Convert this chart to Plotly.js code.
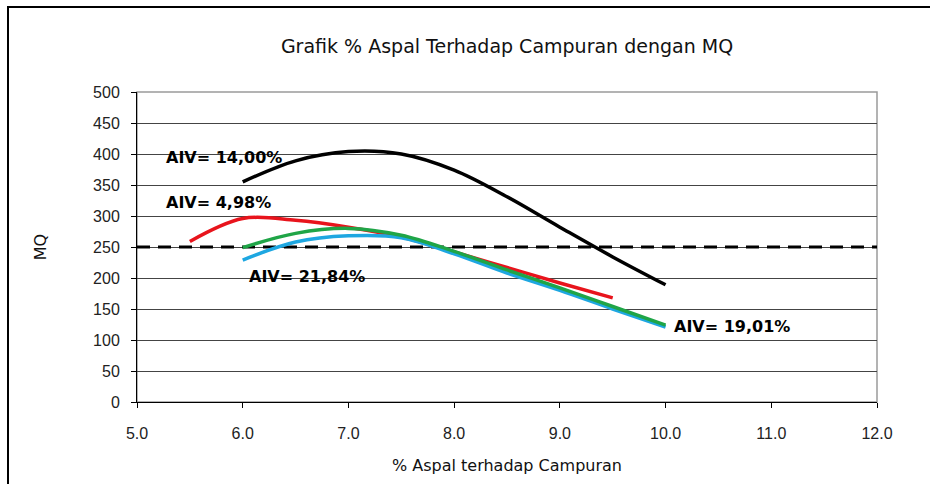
<!DOCTYPE html>
<html>
<head>
<meta charset="utf-8">
<script src="https://cdn.plot.ly/plotly-3.0.1.min.js"></script>
<style>
  html, body { margin: 0; padding: 0; background: #fff; }
  #wrap { position: relative; width: 930px; height: 484px; }
  #chart { position: absolute; left: 0; top: 0; width: 930px; height: 484px; }
  #frame { position: absolute; left: 7px; top: 6px; width: 923px; height: 478px;
           border-top: 2px solid #000; border-left: 2px solid #000; pointer-events: none; }
</style>
</head>
<body>
<div id="wrap">
  <div id="chart"></div>
  <div id="frame"></div>
</div>
<script>
// ---- data ----
const xBlack = [6.0, 6.5, 7.0, 7.5, 8.0, 8.5, 9.0, 9.5, 10.0];
const yBlack = [355, 389, 404, 400, 374, 331, 282, 234, 189];

const xRed = [5.5, 6.0, 6.5, 7.0, 7.5, 8.0, 8.5, 9.0, 9.5];
const yRed = [259, 296, 293, 282, 266, 242, 217, 192, 168];

const xGreen = [6.0, 6.5, 7.0, 7.5, 8.0, 8.5, 9.0, 9.5, 10.0];
const yGreen = [249, 272, 280, 269, 243, 213, 184, 154, 124];

const xCyan = [6.0, 6.5, 7.0, 7.5, 8.0, 8.5, 9.0, 9.5, 10.0];
const yCyan = [229, 258, 268, 265, 239, 208, 180, 150, 121];

const xLimit = [5.0, 12.0];
const yLimit = [250, 250];

const labelText = ["AIV= 14,00%", "AIV= 4,98%", "AIV= 21,84%", "AIV= 19,01%"];
const labelX = [5.26, 5.26, 6.04, 10.06];
const labelY = [395, 321, 203, 122];

const xTicks = [5, 6, 7, 8, 9, 10, 11, 12];
const xTickText = ["5.0", "6.0", "7.0", "8.0", "9.0", "10.0", "11.0", "12.0"];
const yTicks = [0, 50, 100, 150, 200, 250, 300, 350, 400, 450, 500];

const titleText = "Grafik % Aspal Terhadap Campuran dengan MQ";
const xTitle = "% Aspal terhadap Campuran";
const yTitle = "MQ";

// ---- chart ----
const lw = 3.5;
const traces = [
  { x: xLimit, y: yLimit, mode: 'lines', line: { color: '#000', width: 3, dash: '13px,8px' }, hoverinfo: 'skip' },
  { x: xBlack, y: yBlack, mode: 'lines', line: { color: '#000000', width: lw, shape: 'spline', smoothing: 1 } },
  { x: xRed, y: yRed, mode: 'lines', line: { color: '#e8141c', width: lw, shape: 'spline', smoothing: 1 } },
  { x: xCyan, y: yCyan, mode: 'lines', line: { color: '#1ea7e1', width: lw, shape: 'spline', smoothing: 1 } },
  { x: xGreen, y: yGreen, mode: 'lines', line: { color: '#1fa547', width: lw, shape: 'spline', smoothing: 1 } }
];

const annFont = { family: 'DejaVu Sans, sans-serif', size: 16, color: '#000', weight: 'bold' };
const annotations = labelText.map((t, i) => ({
  x: labelX[i], y: labelY[i], xref: 'x', yref: 'y', text: '<b>' + t + '</b>',
  showarrow: false, xanchor: 'left', yanchor: 'middle', font: annFont
}));

const layout = {
  width: 930, height: 484,
  margin: { l: 136.5, r: 53, t: 92, b: 82 },
  paper_bgcolor: '#ffffff', plot_bgcolor: '#ffffff',
  showlegend: false,
  font: { family: 'Liberation Sans, Arial, sans-serif', color: '#222' },
  title: {
    text: titleText, x: 0.5, xref: 'paper', xanchor: 'center',
    y: 50, yref: 'container', yanchor: 'middle',
    font: { family: 'DejaVu Sans, sans-serif', size: 19, color: '#111' }
  },
  xaxis: {
    range: [5, 12], tickmode: 'array', tickvals: xTicks, ticktext: xTickText,
    showgrid: false, zeroline: false,
    showline: true, linecolor: '#000', linewidth: 1,
    ticks: 'outside', ticklen: 5, tickcolor: '#000', tickwidth: 1,
    ticklabelstandoff: 12,
    tickfont: { family: 'Liberation Sans, Arial, sans-serif', size: 16, color: '#222' },
    title: { text: xTitle, standoff: 18, font: { family: 'DejaVu Sans, sans-serif', size: 16, color: '#111' } }
  },
  yaxis: {
    range: [0, 500], tickmode: 'array', tickvals: yTicks,
    showgrid: true, gridcolor: '#444', gridwidth: 1, zeroline: false,
    showline: true, linecolor: '#000', linewidth: 1,
    ticks: 'outside', ticklen: 5, tickcolor: '#000', tickwidth: 1,
    ticklabelstandoff: 8,
    tickfont: { family: 'Liberation Sans, Arial, sans-serif', size: 16, color: '#222' },
    title: { text: yTitle, standoff: 42, font: { family: 'DejaVu Sans, sans-serif', size: 16, color: '#111' } }
  },
  shapes: [
    { type: 'rect', xref: 'paper', yref: 'paper', x0: 0, x1: 1, y0: 0, y1: 1,
      line: { color: '#9a9a9a', width: 1.5 }, layer: 'below' }
  ],
  annotations: annotations
};

Plotly.newPlot('chart', traces, layout, { staticPlot: true, displayModeBar: false });
</script>
</body>
</html>
